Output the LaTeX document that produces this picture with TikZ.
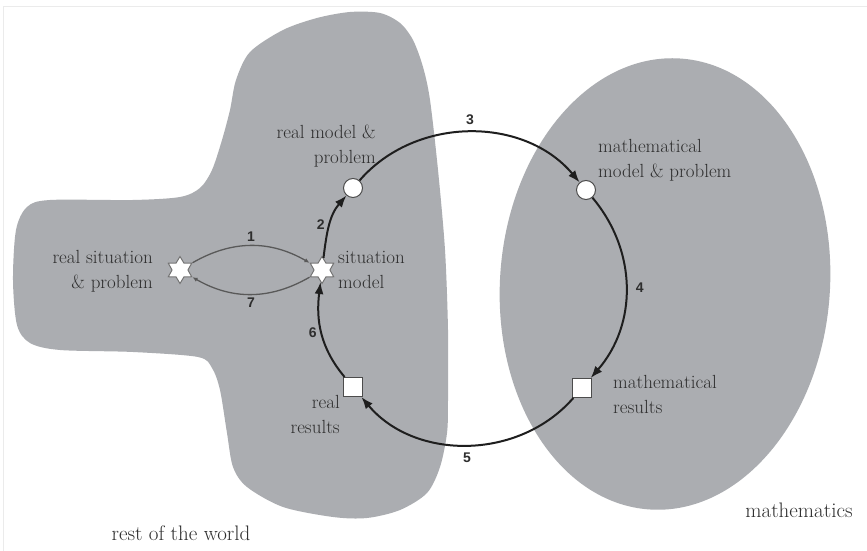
\documentclass[tikz,border=0pt]{standalone}
\usepackage{fontspec}
\newfontfamily\numfont{Liberation Sans}
\usetikzlibrary{shapes.geometric,arrows.meta}
\definecolor{blobgray}{HTML}{ABADB1}
\definecolor{ink}{HTML}{1E1E1E}
\definecolor{txt}{HTML}{2E2E2E}
\begin{document}
\begin{tikzpicture}[x=1pt,y=1pt,
  lbl/.style={text=txt,font=\fontsize{19}{25}\selectfont,inner sep=0pt},
  biglbl/.style={text=txt,font=\fontsize{21}{25}\selectfont,inner sep=0pt},
  num/.style={text=txt,font=\numfont\bfseries\fontsize{14}{18}\selectfont,inner sep=1pt},
  starnode/.style={star,star points=6,star point ratio=1.7,minimum size=27pt,inner sep=0pt,fill=white,draw=black!55,line width=1pt},
  circnode/.style={circle,minimum size=19pt,inner sep=0pt,fill=white,draw=black!70,line width=1pt},
  sqnode/.style={rectangle,minimum size=19pt,inner sep=0pt,fill=white,draw=black!70,line width=1pt},
  bigarrow/.style={draw=ink,line width=2pt,-{Latex[length=12pt,width=9pt]}},
  smallarrow/.style={draw=black!65,line width=1.3pt,-{Latex[length=5pt,width=4.5pt]}}
]
\useasboundingbox (0,0) rectangle (867,551);
\fill[white] (0,0) rectangle (867,551);
\draw[black!8,line width=1pt] (3,0) -- (3,544) -- (867,544);
% rest of the world blob
\fill[blobgray] plot[smooth cycle] coordinates {
 (350,539) (380,538) (400,528) (413,511) (423,484) (430,451) (438,381)
 (445,301) (448,221) (448,151) (447,118) (440,84) (427,58) (400,41)
 (367,33) (333,34) (283,44) (247,64) (233,84) (227,118) (220,161)
 (212,183) (198,194) (133,199) (60,201) (30,208) (17,226) (13,271)
 (16,321) (27,344) (50,351) (133,351) (180,354) (200,363) (212,381)
 (222,411) (230,441) (236,471) (250,499) (283,521) (317,533)};
% mathematics ellipse
\fill[blobgray,rotate around={-4:(665,267)}] (665,267) ellipse [x radius=165,y radius=226];

% nodes
\node[starnode] (rs) at (180,281) {};
\node[starnode] (sm) at (322,281) {};
\node[circnode] (rm) at (353,363) {};
\node[circnode] (mm) at (586,361) {};
\node[sqnode] (mr) at (582,163) {};
\node[sqnode] (rr) at (353,164) {};

% labels
\node[lbl,align=right,anchor=east] (rst) at (153,280) {real situation\\\& problem};
\node[lbl,align=left,anchor=west] (smt) at (338,281) {situation\\model};
\node[lbl,align=right,anchor=east] (rmt) at (376,405) {real model \&\\problem};
\node[lbl,align=left,anchor=west] (mmt) at (598,391) {mathematical\\model \& problem};
\node[lbl,align=left,anchor=west] (mrt) at (613,157) {mathematical\\results};
\node[lbl,align=right,anchor=east] (rrt) at (340,137) {real\\results};
\node[biglbl] (rw) at (181,18) {rest of the world};
\node[biglbl] (ma) at (799,41) {mathematics};

% arrows
\draw[smallarrow] (rs) to[out=30,in=150] node[num,above=3pt] {1} (sm);
\draw[smallarrow] (sm) to[out=-150,in=-30] node[num,below=2pt] {7} (rs);
\draw[bigarrow] (sm) to[out=83,in=-131] node[num,left=3pt] {2} (rm);
\draw[bigarrow] (rm) to[out=49,in=130] node[num,above=6pt] {3} (mm);
\draw[bigarrow] (mm) to[out=-50,in=49] node[num,right=8pt] {4} (mr);
\draw[bigarrow] (mr) to[out=-131,in=-50] node[num,below=6pt] {5} (rr);
\draw[bigarrow] (rr) to[out=130,in=-97] node[num,left=3pt] {6} (sm);
\end{tikzpicture}
\end{document}
